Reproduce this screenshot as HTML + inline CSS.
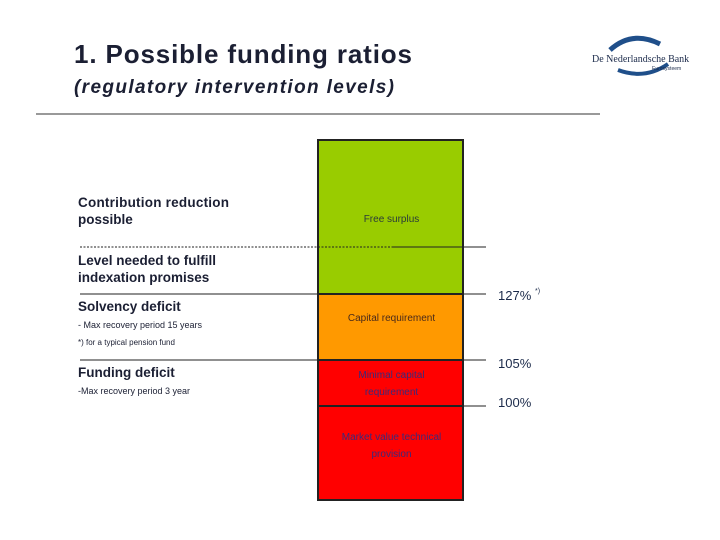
<!DOCTYPE html>
<html><head><meta charset="utf-8"><style>
body{margin:0;background:#fff;}
svg{display:block;font-family:"Liberation Sans",sans-serif;}
</style></head><body>
<svg id="c" width="720" height="540">
<text x="74" y="63" font-size="26" font-weight="bold" fill="#1b1f33" textLength="338">1. Possible funding ratios</text>
<text x="74" y="93" font-size="19" font-weight="bold" font-style="italic" fill="#1b1f33" textLength="320">(regulatory intervention levels)</text>
<line x1="36" y1="114" x2="600" y2="114" stroke="#333" stroke-width="1"/>
<g>
<path d="M610 50 Q632 30 660 44" stroke="#1f4f8a" stroke-width="5" fill="none"/>
<path d="M618 70 Q645 80 668 64" stroke="#1f4f8a" stroke-width="4" fill="none"/>
<text x="592" y="62" font-size="10" font-family="Liberation Serif,serif" fill="#1b2a4a">De Nederlandsche Bank</text>
<text x="652" y="70" font-size="5" fill="#1b2a4a">Eurosysteem</text>
</g>
<g id="bars"></g>
<g fill="#1b1f33">
<text x="78" y="207" font-size="13.5" font-weight="bold" textLength="151">Contribution reduction</text>
<text x="78" y="224" font-size="13.5" font-weight="bold">possible</text>
<text x="78" y="265" font-size="13.5" font-weight="bold">Level needed to fulfill</text>
<text x="78" y="282" font-size="13.5" font-weight="bold">indexation promises</text>
<text x="78" y="311" font-size="13.5" font-weight="bold">Solvency deficit</text>
<text x="78" y="328" font-size="9">- Max recovery period 15 years</text>
<text x="78" y="345" font-size="8">*) for a typical pension fund</text>
<text x="78" y="377" font-size="13.5" font-weight="bold">Funding deficit</text>
<text x="78" y="394" font-size="9">-Max recovery period 3 year</text>
</g>
</svg>
<script>
const segNames=["Market value technical provision","Minimal capital requirement","Capital requirement","Free surplus"];
const segTop=[100,105,127,170];
const segBottom=[70,100,105,127];
const segColors=["#ff0000","#ff0000","#ff9900","#99cc00"];
const pctLabels=["100%","105%","127%"];
const pctValues=[100,105,127];
const indexLevel=148;
const ns="http://www.w3.org/2000/svg";
const g=document.getElementById("bars");
const axDom=[70,100,105,127,148,170];
const axPx=[500,406,360,294,247,140];
function Y(v){
 for(let i=0;i<axDom.length-1;i++){
  if(v<=axDom[i+1]||i==axDom.length-2){
   const t=(v-axDom[i])/(axDom[i+1]-axDom[i]);
   return axPx[i]+t*(axPx[i+1]-axPx[i]);
  }
 }
}
function mk(t,a){const e=document.createElementNS(ns,t);for(const k in a)e.setAttribute(k,a[k]);g.appendChild(e);return e;}
const X0=318,X1=463;
segNames.forEach((n,i)=>{
 const r=mk("rect",{x:X0,y:Y(segTop[i]),width:X1-X0,height:Y(segBottom[i])-Y(segTop[i]),fill:segColors[i],stroke:"#222","stroke-width":2});
 
 
});
const labelLines=[["Market value technical","provision"],["Minimal capital","requirement"],["Capital requirement"],["Free surplus"]];
const labelCol=["#3b2a7a","#3b2a7a","#4a2a1a","#2a3a3a"];
const labelY=[[440,457],[378,395],[321],[222]];
labelLines.forEach((ls,i)=>{
 ls.forEach((s,j)=>{
  const t=mk("text",{x:(X0+X1)/2+1,y:labelY[i][j],"font-size":10,"text-anchor":"middle",fill:labelCol[i]});
  t.textContent=s;
  
  
 });
});
let yi=Y(indexLevel);
let l=mk("line",{x1:80,y1:yi,x2:393,y2:yi,stroke:"#222","stroke-dasharray":"2,1.5"});


l=mk("line",{x1:393,y1:yi,x2:486,y2:yi,stroke:"#222"});


pctValues.forEach((v,i)=>{
 const yy=Y(v);
 const ln=mk("line",{x1:v==100?X1:80,y1:yy,x2:486,y2:yy,stroke:"#222"});
 
 
 const t=mk("text",{x:498,y:v==127?300:(v==105?368:407),"font-size":13,fill:"#1b2a4a"});
 t.textContent=pctLabels[i];
 
 
});
const sup=mk("text",{x:535,y:293,"font-size":7,fill:"#1b2a4a"});
sup.textContent="*)";


</script>
</body></html>
